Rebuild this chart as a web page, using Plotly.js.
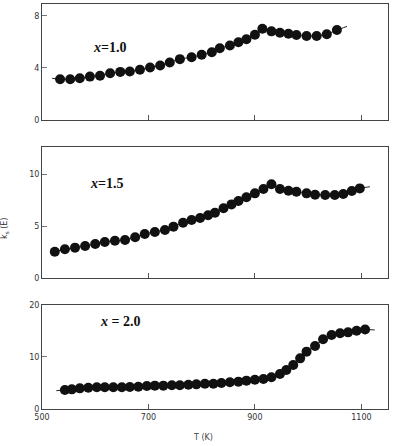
<!DOCTYPE html>
<html>
<head>
<meta charset="utf-8">
<script src="https://cdn.plot.ly/plotly-3.0.1.min.js"></script>
<style>html,body{margin:0;padding:0;background:#fff;}#chart{width:396px;height:446px;}</style>
</head>
<body>
<div id="chart"></div>
<script>
// x = 1.0
const T1 = [534,553,571,590,609,628,647,665,684,703,722,740,759,781,800,819,834,853,869,884,900,914,931,947,963,978,997,1016,1035,1054];
const K1 = [3.13,3.13,3.2,3.33,3.4,3.59,3.69,3.72,3.85,4.03,4.18,4.41,4.67,4.82,5.0,5.2,5.51,5.72,5.97,6.2,6.54,7.0,6.8,6.7,6.62,6.52,6.45,6.45,6.58,6.9];
const T1ext = [519, 1073];
const K1ext = [3.2, 7.18];
// x = 1.5
const T2 = [524,543,562,581,600,618,637,656,675,693,712,731,747,765,781,797,812,825,841,856,869,884,900,916,931,947,963,978,997,1013,1032,1050,1066,1082,1097];
const K2 = [2.53,2.76,2.92,3.08,3.27,3.46,3.59,3.65,3.91,4.23,4.42,4.62,4.94,5.32,5.58,5.77,6.03,6.28,6.7,7.08,7.4,7.76,8.14,8.56,9.01,8.56,8.4,8.3,8.14,8.01,7.98,7.98,8.08,8.37,8.62];
const T2ext = [1116];
const K2ext = [8.78];
// x = 2.0
const T3 = [543,556,571,587,603,618,634,650,665,681,697,712,728,744,759,775,790,806,822,837,853,869,884,900,916,931,947,959,972,985,997,1013,1028,1044,1060,1075,1091,1107];
const K3 = [3.65,3.78,3.97,4.1,4.17,4.17,4.17,4.17,4.23,4.29,4.42,4.49,4.49,4.55,4.55,4.68,4.74,4.87,4.87,5.0,5.13,5.26,5.45,5.64,5.77,6.09,6.73,7.5,8.46,9.74,11.03,12.12,13.4,14.23,14.55,14.74,15.06,15.3];
const T3ext = [527, 1125];
const K3ext = [3.53, 15.2];

const xTicks = [500, 700, 900, 1100];
const yTicks1 = [0, 4, 8];
const yTicks2 = [0, 5, 10];
const yTicks3 = [0, 10, 20];

function lineTrace(T, K, tExt, kExt, xa, ya, hasLeft) {
  let xs, ys;
  if (hasLeft) {
    xs = [tExt[0]].concat(T, [tExt[1]]);
    ys = [kExt[0]].concat(K, [kExt[1]]);
  } else {
    xs = T.concat(tExt);
    ys = K.concat(kExt);
  }
  return {x: xs, y: ys, xaxis: xa, yaxis: ya, mode: 'lines', type: 'scatter',
          line: {color: '#222', width: 1, shape: 'spline', smoothing: 0.6}, hoverinfo: 'skip'};
}
function markTrace(T, K, xa, ya) {
  return {x: T, y: K, xaxis: xa, yaxis: ya, mode: 'markers', type: 'scatter',
          marker: {color: '#111', size: 10, line: {width: 0}}};
}

const data = [
  lineTrace(T1, K1, T1ext, K1ext, 'x3', 'y3', true),
  markTrace(T1, K1, 'x3', 'y3'),
  lineTrace(T2, K2, T2ext, K2ext, 'x2', 'y2', false),
  markTrace(T2, K2, 'x2', 'y2'),
  lineTrace(T3, K3, T3ext, K3ext, 'x', 'y', true),
  markTrace(T3, K3, 'x', 'y')
];

const tickFont = {family: 'DejaVu Sans', size: 8, color: '#333'};
function xAxis(anchor, labels) {
  return {anchor: anchor, range: [500, 1150], tickvals: xTicks, ticktext: xTicks.map(String),
          showticklabels: labels, ticks: 'inside', ticklen: 5, tickcolor: '#555',
          showline: true, mirror: true, linecolor: '#444', linewidth: 1,
          showgrid: false, zeroline: false, tickfont: tickFont, fixedrange: true};
}
function yAxis(anchor, domain, range, ticks) {
  return {anchor: anchor, domain: domain, range: range, tickvals: ticks,
          ticks: 'inside', ticklen: 5, tickcolor: '#777',
          showline: true, mirror: true, linecolor: '#444', linewidth: 1,
          showgrid: false, zeroline: false, tickfont: tickFont, fixedrange: true};
}

const annFont = {family: 'Liberation Serif', size: 14, color: '#111', weight: 'bold'};
function ann(text, x, y, font, extra) {
  return Object.assign({text: text, xref: 'paper', yref: 'paper', x: x, y: y,
    xanchor: 'center', yanchor: 'middle', showarrow: false, font: font}, extra || {});
}
const layout = {
  width: 396, height: 446,
  margin: {l: 42, r: 8, t: 4, b: 37},
  paper_bgcolor: '#fff', plot_bgcolor: '#fff',
  showlegend: false,
  xaxis: xAxis('y', true),
  xaxis2: xAxis('y2', false),
  xaxis3: xAxis('y3', false),
  yaxis: yAxis('x', [0, 0.2568], [0, 20], yTicks3),
  yaxis2: yAxis('x2', [0.3235, 0.6469], [0, 12.6], yTicks2),
  yaxis3: yAxis('x3', [0.7136, 1], [0, 8.9], yTicks1),
  annotations: [
    ann('<i>x</i>=1.0', 0.1965, 0.893, annFont),
    ann('<i>x</i>=1.5', 0.185, 0.558, annFont),
    ann('<i>x</i> = 2.0', 0.225, 0.215, annFont),
    ann('T (K)', 0.466, -0.0716, {family: 'DejaVu Sans', size: 8, color: '#444'}),
    ann('k<sub>s</sub> (E)', -0.107, 0.447, {family: 'DejaVu Sans', size: 8, color: '#333'}, {textangle: -90})
  ]
};

Plotly.newPlot('chart', data, layout, {displayModeBar: false, staticPlot: true});
</script>
</body>
</html>
